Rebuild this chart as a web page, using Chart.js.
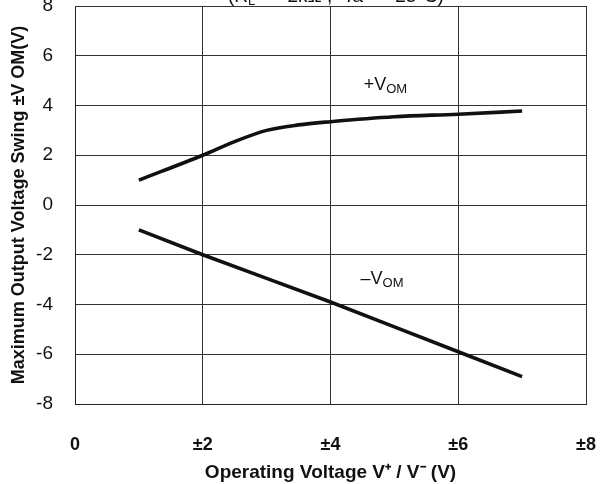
<!DOCTYPE html>
<html>
<head>
<meta charset="utf-8">
<script src="https://cdn.jsdelivr.net/npm/chart.js@4"></script>
<style>
  html, body { margin: 0; padding: 0; background: #fff; }
  #wrap { width: 602px; height: 484px; }
</style>
</head>
<body>
<div id="wrap"><canvas id="chart1" width="602" height="484"></canvas></div>
<script>
// operating voltage (±V) and output swing values
const vPlusX = [1, 2, 2.5, 3, 3.5, 4, 5, 6, 7];
const vPlusY = [1.0, 2.0, 2.55, 3.0, 3.22, 3.35, 3.55, 3.65, 3.78];
const vMinusX = [1, 2, 3, 4, 5, 6, 7];
const vMinusY = [-1.0, -2.0, -2.95, -3.9, -4.9, -5.9, -6.9];

const xTicks = [0, 2, 4, 6, 8];
const yTicks = [-8, -6, -4, -2, 0, 2, 4, 6, 8];

function toPoints(xs, ys) {
  return xs.map((x, i) => ({ x: x, y: ys[i] }));
}

// curve labels with subscripts, plus the cut-off condition line at the top
const labelPlugin = {
  id: 'curveLabels',
  afterDraw(chart) {
    const ctx = chart.ctx;
    const xs = chart.scales.x, ys = chart.scales.y;
    function vLabel(sign, dx, dy) {
      let px = xs.getPixelForValue(dx), py = ys.getPixelForValue(dy);
      ctx.save();
      ctx.fillStyle = '#111';
      ctx.textBaseline = 'alphabetic';
      ctx.font = '18px "Liberation Sans", Arial, sans-serif';
      ctx.fillText(sign + 'V', px, py);
      px += ctx.measureText(sign + 'V').width;
      ctx.font = '13px "Liberation Sans", Arial, sans-serif';
      ctx.fillText('OM', px, py + 3);
      ctx.restore();
    }
    vLabel('+', 4.52, 4.62);
    vLabel('\u2013', 4.47, -3.18);

    ctx.save();
    ctx.fillStyle = '#111';
    ctx.textBaseline = 'alphabetic';
    ctx.font = '19px "Liberation Sans", Arial, sans-serif';
    let tx = 228;
    ctx.fillText('(R', tx, 2);
    tx += ctx.measureText('(R').width;
    ctx.font = '13px "Liberation Sans", Arial, sans-serif';
    ctx.fillText('L', tx, 5);
    tx += ctx.measureText('L').width;
    ctx.font = '19px "Liberation Sans", Arial, sans-serif';
    ctx.fillText('  =  2k\u03A9 ,  Ta  =  25\u00B0C)', tx, 2);
    ctx.restore();
  }
};

new Chart(document.getElementById('chart1'), {
  type: 'scatter',
  data: {
    datasets: [
      {
        label: '+VOM',
        data: toPoints(vPlusX, vPlusY),
        showLine: true,
        borderColor: '#111',
        borderWidth: 3.6,
        pointRadius: 0,
        cubicInterpolationMode: 'monotone'
      },
      {
        label: '-VOM',
        data: toPoints(vMinusX, vMinusY),
        showLine: true,
        borderColor: '#111',
        borderWidth: 3.6,
        pointRadius: 0,
        tension: 0
      }
    ]
  },
  options: {
    responsive: false,
    animation: false,
    layout: { padding: { top: 6, right: 16, left: 0, bottom: 0 } },
    plugins: {
      legend: { display: false },
      tooltip: { enabled: false }
    },
    scales: {
      x: {
        type: 'linear',
        min: 0,
        max: 8,
        afterBuildTicks: s => { s.ticks = xTicks.map(v => ({ value: v })); },
        afterFit: s => { s.height = 80; s.paddingLeft = 0; s.paddingRight = 0; },
        grid: { color: '#333', lineWidth: 1, drawTicks: false },
        border: { color: '#222', width: 1 },
        ticks: {
          color: '#111',
          padding: 30,
          maxRotation: 0,
          font: { family: '"Liberation Sans", Arial, sans-serif', size: 18, weight: 'bold' },
          callback: v => (v === 0 ? '0' : '\u00B1' + v)
        },
        title: {
          display: true,
          text: 'Operating Voltage V\u207A / V\u207B (V)',
          color: '#111',
          padding: { top: 6, bottom: 0 },
          font: { family: '"Liberation Sans Narrow", "Liberation Sans", Arial, sans-serif', size: 19, weight: 'bold' }
        }
      },
      y: {
        type: 'linear',
        min: -8,
        max: 8,
        afterBuildTicks: s => { s.ticks = yTicks.map(v => ({ value: v })); },
        afterFit: s => { s.width = 75; s.paddingTop = 0; s.paddingBottom = 0; },
        grid: { color: '#333', lineWidth: 1, drawTicks: false },
        border: { color: '#222', width: 1 },
        ticks: {
          color: '#111',
          padding: 22,
          font: { family: '"Liberation Sans", Arial, sans-serif', size: 19 }
        },
        title: {
          display: true,
          text: 'Maximum Output Voltage Swing \u00B1V OM(V)',
          color: '#111',
          padding: { top: 8, bottom: 0 },
          font: { family: '"Liberation Sans", Arial, sans-serif', size: 18, weight: 'bold' }
        }
      }
    }
  },
  plugins: [labelPlugin]
});
</script>
</body>
</html>
